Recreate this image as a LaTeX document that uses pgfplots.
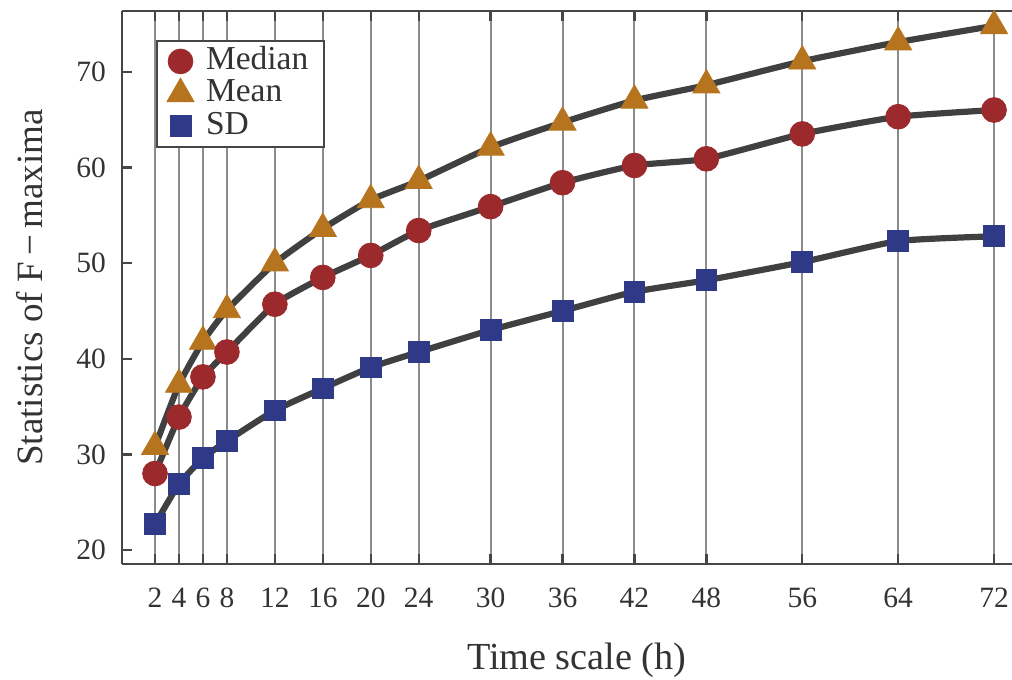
\documentclass[border=0pt]{standalone}
\usepackage{pgfplots}
\pgfplotsset{compat=1.18}
\usepackage{fontspec}
\setmainfont{Liberation Serif}
\definecolor{cRed}{RGB}{156,42,44}
\definecolor{cOrg}{RGB}{182,116,30}
\definecolor{cBlu}{RGB}{46,58,136}
\definecolor{cLine}{RGB}{64,64,64}
\definecolor{cGrid}{RGB}{140,140,140}
\definecolor{cAxis}{RGB}{70,70,70}
\begin{document}
\begin{tikzpicture}
\useasboundingbox (-30.5bp,-29bp) rectangle (222.5bp,141bp);
\begin{axis}[
  scale only axis,
  width=222.5bp, height=138.25bp,
  xmin=-0.753, xmax=73.5,
  ymin=18.54, ymax=76.35,
  axis x line=box, axis y line=left,
  axis line style={cAxis, line width=0.7bp, -},
  xtick={2,4,6,8,12,16,20,24,30,36,42,48,56,64,72},
  ytick={20,30,40,50,60,70},
  tick align=inside,
  major tick length=2.5bp,
  major tick style={cAxis, line width=0.6bp},
  xmajorgrids,
  grid style={cGrid, line width=0.5bp},
  ticklabel style={font=\fontsize{7.4}{8}\selectfont, text=black!80},
  /pgf/number format/assume math mode=true,
  xticklabel style={yshift=-2.5bp},
  yticklabel style={xshift=-0.5bp},
  xlabel={Time scale (h)},
  ylabel={Statistics of F\,\textminus\,maxima},
  xlabel style={font=\fontsize{9.6}{11}\selectfont, text=black!80, at={(axis description cs:0.511,-0.174)}, anchor=center},
  ylabel style={font=\fontsize{9.3}{11}\selectfont, text=black!80, at={(axis description cs:-0.104,0.5)}, anchor=center},
  legend style={at={(0,1)}, anchor=north west, xshift=8.5bp, yshift=-7.25bp,
    draw=cAxis, line width=0.5bp, font=\fontsize{8.4}{9}\selectfont, text=black!80,
    inner xsep=2.5bp, inner ysep=1.2bp, row sep=0.3bp, column sep=1.5bp,
    nodes={inner xsep=1.5bp, inner ysep=0.3bp, text height=5.6bp, text depth=1.6bp}},
  legend cell align=left,
  legend image code/.code={\draw[#1] plot coordinates {(4.3bp,0bp)};},
  every axis plot/.append style={line width=1.55bp},
]
\addlegendimage{only marks, mark=*, mark size=3.1bp, mark options={fill=cRed, draw=cRed, line width=0.2bp}}
\addlegendentry{Median}
\addlegendimage{only marks, mark=triangle*, mark size=3.9bp, mark options={fill=cOrg, draw=cOrg, line width=0.2bp}}
\addlegendentry{Mean}
\addlegendimage{only marks, mark=square*, mark size=2.6bp, mark options={fill=cBlu, draw=cBlu, line width=0.2bp}}
\addlegendentry{SD}

\addplot[forget plot, cLine, smooth, tension=0.3, mark=triangle*, mark size=3.9bp, mark options={fill=cOrg, draw=cOrg, line width=0.2bp}] coordinates {
(2,30.8) (4,37.3) (6,41.8) (8,45.1) (12,50.0) (16,53.6) (20,56.6) (24,58.6) (30,62.1) (36,64.7) (42,67.0) (48,68.6) (56,71.1) (64,73.1) (72,74.8)};
\addplot[forget plot, cLine, smooth, tension=0.3, mark=*, mark size=3.1bp, mark options={fill=cRed, draw=cRed, line width=0.2bp}] coordinates {
(2,28.0) (4,33.9) (6,38.1) (8,40.7) (12,45.7) (16,48.5) (20,50.8) (24,53.4) (30,55.9) (36,58.4) (42,60.2) (48,60.9) (56,63.5) (64,65.3) (72,66.0)};
\addplot[forget plot, cLine, smooth, tension=0.3, mark=square*, mark size=2.6bp, mark options={fill=cBlu, draw=cBlu, line width=0.2bp}] coordinates {
(2,22.7) (4,26.9) (6,29.6) (8,31.4) (12,34.6) (16,36.9) (20,39.1) (24,40.7) (30,43.0) (36,45.0) (42,47.0) (48,48.2) (56,50.1) (64,52.3) (72,52.8)};
\end{axis}
\end{tikzpicture}
\end{document}
